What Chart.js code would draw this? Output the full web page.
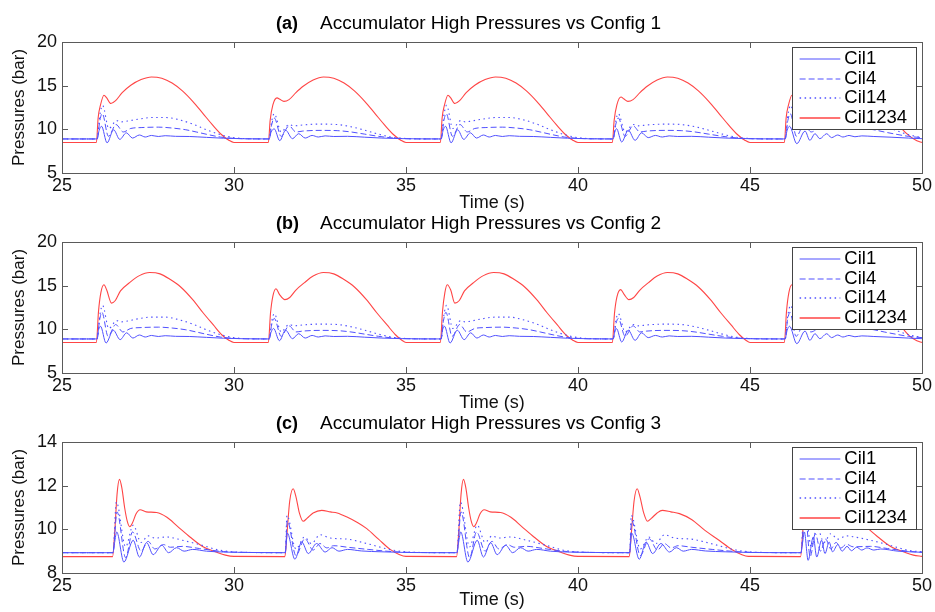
<!DOCTYPE html>
<html><head><meta charset="utf-8">
<script src="https://cdn.jsdelivr.net/npm/chart.js@4.4.0/dist/chart.umd.min.js"></script>
<style>html,body{margin:0;padding:0;background:#fff}#wrap{position:relative;width:935px;height:612px;background:#fff;overflow:hidden}canvas{position:absolute;left:0}</style>
</head><body>
<div id="wrap">
<canvas id="ca" width="935" height="215" style="top:0"></canvas>
<canvas id="cb" width="935" height="215" style="top:200px"></canvas>
<canvas id="cc" width="935" height="212" style="top:400px"></canvas>
</div>
<script>
// ---- labels ----
const seriesNames = ['Cil1','Cil4','Cil14','Cil1234'];
const panelTags = ['(a)','(b)','(c)'];
const panelTitles = ['Accumulator High Pressures vs Config 1','Accumulator High Pressures vs Config 2','Accumulator High Pressures vs Config 3'];
const xTicks = [25,30,35,40,45,50];
const yTicksAB = [5,10,15,20];
const yTicksC = [8,10,12,14];
const xTitle = 'Time (s)';
const yTitle = 'Pressures (bar)';

// ---- panel (a) ----
const aCil1 = [[25,8.9],[26.02,8.9],[26.08,9.9],[26.15,10.35],[26.31,8.45],[26.5,9.95],[26.68,8.85],[26.87,9.6],[27.05,9.0],[27.25,9.35],[27.42,9.12],[27.6,9.3],[27.8,9.18],[28.0,9.27],[28.3,9.2],[28.7,9.18],[29.2,9.08],[29.7,8.98],[30.3,8.92],
[31.02,8.9],[31.08,9.7],[31.17,10.05],[31.33,8.7],[31.5,9.9],[31.7,8.93],[31.88,9.5],[32.07,9.0],[32.27,9.3],[32.45,9.12],[32.65,9.25],[32.9,9.18],[33.3,9.2],[33.8,9.1],[34.3,9.0],[34.8,8.94],[35.4,8.91],
[36.02,8.9],[36.08,9.9],[36.15,10.35],[36.31,8.45],[36.5,9.95],[36.68,8.85],[36.87,9.6],[37.05,9.0],[37.25,9.35],[37.42,9.12],[37.6,9.3],[37.8,9.18],[38.0,9.27],[38.3,9.2],[38.7,9.18],[39.2,9.08],[39.7,8.98],[40.3,8.92],
[41.02,8.9],[41.07,9.7],[41.12,10.08],[41.27,8.55],[41.46,9.9],[41.66,8.74],[41.85,9.6],[42.04,9.05],[42.25,9.3],[42.45,9.12],[42.65,9.25],[42.9,9.18],[43.3,9.2],[43.8,9.1],[44.3,9.0],[44.8,8.94],[45.4,8.91],
[46.02,8.9],[46.08,9.9],[46.15,10.35],[46.36,8.36],[46.6,9.8],[46.74,8.74],[46.89,9.5],[47.03,8.93],[47.23,9.5],[47.37,9.05],[47.55,9.35],[47.7,9.12],[47.88,9.3],[48.05,9.15],[48.25,9.25],[48.6,9.18],[49.1,9.1],[49.6,9.0],[50,8.93]];
const aCil4 = [[25,8.9],[26.02,8.9],[26.1,11.0],[26.17,11.8],[26.35,9.2],[26.57,10.55],[26.78,9.7],[27.0,10.1],[27.3,10.2],[27.8,10.25],[28.2,10.15],[28.6,9.95],[28.9,9.7],[29.3,9.35],[29.6,9.12],[30.0,8.97],[30.5,8.91],
[31.02,8.9],[31.1,10.6],[31.17,11.3],[31.37,9.2],[31.6,10.4],[31.8,9.7],[32.0,9.8],[32.5,9.88],[33.0,9.85],[33.4,9.7],[33.8,9.45],[34.2,9.2],[34.6,9.02],[35.0,8.93],[35.5,8.9],
[36.02,8.9],[36.1,11.0],[36.17,11.8],[36.35,9.2],[36.57,10.55],[36.78,9.7],[37.0,10.1],[37.3,10.2],[37.8,10.25],[38.2,10.15],[38.6,9.95],[38.9,9.7],[39.3,9.35],[39.6,9.12],[40.0,8.97],[40.5,8.91],
[41.02,8.9],[41.1,10.6],[41.17,11.3],[41.37,9.2],[41.6,10.4],[41.8,9.7],[42.0,9.8],[42.5,9.88],[43.0,9.85],[43.4,9.7],[43.8,9.45],[44.2,9.2],[44.6,9.02],[45.0,8.93],[45.5,8.9],
[46.02,8.9],[46.1,11.0],[46.17,11.8],[46.35,9.2],[46.57,10.55],[46.78,9.7],[47.0,10.1],[47.3,10.2],[47.8,10.25],[48.2,10.15],[48.6,9.95],[48.9,9.7],[49.3,9.4],[49.6,9.2],[50,9.05]];
const aCil14 = [[25,8.9],[26.02,8.9],[26.1,11.6],[26.18,12.75],[26.36,10.1],[26.59,11.0],[26.72,10.85],[26.9,10.95],[27.2,11.15],[27.6,11.35],[28.0,11.35],[28.4,11.1],[28.8,10.6],[29.2,9.95],[29.6,9.4],[30.0,9.05],[30.4,8.93],
[31.02,8.9],[31.1,11.0],[31.17,11.8],[31.37,9.7],[31.6,10.55],[31.75,10.4],[32.0,10.5],[32.5,10.6],[33.0,10.55],[33.4,10.3],[33.8,9.9],[34.2,9.45],[34.6,9.1],[35.0,8.95],[35.4,8.91],
[36.02,8.9],[36.1,11.6],[36.18,12.75],[36.36,10.1],[36.59,11.0],[36.72,10.85],[36.9,10.95],[37.2,11.15],[37.6,11.35],[38.0,11.35],[38.4,11.1],[38.8,10.6],[39.2,9.95],[39.6,9.4],[40.0,9.05],[40.4,8.93],
[41.02,8.9],[41.1,11.0],[41.17,11.8],[41.37,9.7],[41.6,10.55],[41.75,10.4],[42.0,10.5],[42.5,10.6],[43.0,10.55],[43.4,10.3],[43.8,9.9],[44.2,9.45],[44.6,9.1],[45.0,8.95],[45.4,8.91],
[46.02,8.9],[46.1,11.6],[46.18,12.75],[46.36,10.1],[46.59,11.0],[46.72,10.85],[46.9,10.95],[47.2,11.15],[47.6,11.35],[48.0,11.35],[48.4,11.1],[48.8,10.6],[49.2,9.95],[49.6,9.4],[50,9.05]];
const aCil1234 = [[25,8.5],[26.0,8.5],[26.05,11.3],[26.12,12.8],[26.22,13.9],[26.3,13.6],[26.42,12.95],[26.55,13.25],[26.75,14.2],[27.0,15.05],[27.3,15.7],[27.6,16.0],[27.9,15.85],[28.2,15.3],[28.5,14.4],[28.8,13.2],[29.1,11.8],[29.4,10.4],[29.65,9.35],[29.85,8.75],[30.0,8.5],
[31.0,8.5],[31.05,11.0],[31.13,12.8],[31.25,13.6],[31.33,13.45],[31.45,13.2],[31.6,13.4],[31.8,14.2],[32.0,14.9],[32.3,15.65],[32.6,16.0],[32.9,15.85],[33.2,15.3],[33.5,14.4],[33.8,13.2],[34.1,11.8],[34.4,10.4],[34.65,9.35],[34.85,8.75],[35.0,8.5],
[36.0,8.5],[36.05,11.3],[36.12,12.8],[36.22,13.9],[36.3,13.6],[36.42,12.95],[36.55,13.25],[36.75,14.2],[37.0,15.05],[37.3,15.7],[37.6,16.0],[37.9,15.85],[38.2,15.3],[38.5,14.4],[38.8,13.2],[39.1,11.8],[39.4,10.4],[39.65,9.35],[39.85,8.75],[40.0,8.5],
[41.0,8.5],[41.05,11.0],[41.13,12.8],[41.25,13.7],[41.33,13.5],[41.45,13.2],[41.6,13.4],[41.8,14.2],[42.0,14.9],[42.3,15.65],[42.6,16.0],[42.9,15.85],[43.2,15.3],[43.5,14.4],[43.8,13.2],[44.1,11.8],[44.4,10.4],[44.65,9.35],[44.85,8.75],[45.0,8.5],
[46.0,8.5],[46.05,11.3],[46.12,12.8],[46.22,13.9],[46.3,13.6],[46.42,12.95],[46.55,13.25],[46.75,14.2],[47.0,15.05],[47.3,15.7],[47.6,16.0],[47.9,15.85],[48.2,15.3],[48.5,14.4],[48.8,13.2],[49.1,11.7],[49.4,10.1],[49.65,9.2],[49.85,8.7],[50.0,8.5]];

// ---- panel (b) ----
const bCil1 = [[25,8.9],[26.02,8.9],[26.06,9.9],[26.12,10.35],[26.28,8.43],[26.49,9.9],[26.69,8.82],[26.88,9.6],[27.06,9.0],[27.25,9.35],[27.42,9.12],[27.6,9.3],[27.8,9.18],[28.0,9.27],[28.3,9.2],[28.7,9.18],[29.2,9.08],[29.7,8.98],[30.3,8.92],
[31.02,8.9],[31.08,9.7],[31.15,10.1],[31.32,8.7],[31.5,9.9],[31.7,8.93],[31.88,9.5],[32.07,9.0],[32.27,9.3],[32.45,9.12],[32.65,9.25],[32.9,9.18],[33.3,9.2],[33.8,9.1],[34.3,9.0],[34.8,8.94],[35.4,8.91],
[36.02,8.9],[36.06,9.9],[36.12,10.35],[36.28,8.43],[36.49,9.9],[36.69,8.82],[36.88,9.6],[37.06,9.0],[37.25,9.35],[37.42,9.12],[37.6,9.3],[37.8,9.18],[38.0,9.27],[38.3,9.2],[38.7,9.18],[39.2,9.08],[39.7,8.98],[40.3,8.92],
[41.02,8.9],[41.07,9.7],[41.12,10.08],[41.27,8.55],[41.46,9.9],[41.66,8.74],[41.85,9.6],[42.04,9.05],[42.25,9.3],[42.45,9.12],[42.65,9.25],[42.9,9.18],[43.3,9.2],[43.8,9.1],[44.3,9.0],[44.8,8.94],[45.4,8.91],
[46.02,8.9],[46.08,9.9],[46.15,10.35],[46.36,8.36],[46.6,9.8],[46.74,8.74],[46.89,9.5],[47.03,8.93],[47.23,9.5],[47.37,9.05],[47.55,9.35],[47.7,9.12],[47.88,9.3],[48.05,9.15],[48.25,9.25],[48.6,9.18],[49.1,9.1],[49.6,9.0],[50,8.93]];
const bCil4 = [[25,8.9],[26.02,8.9],[26.09,11.0],[26.16,11.95],[26.34,9.2],[26.56,10.55],[26.77,9.7],[27.0,10.1],[27.3,10.2],[27.8,10.25],[28.2,10.15],[28.6,9.95],[28.9,9.7],[29.3,9.35],[29.6,9.12],[30.0,8.97],[30.5,8.91],
[31.02,8.9],[31.1,10.6],[31.17,11.25],[31.37,9.2],[31.6,10.4],[31.8,9.7],[32.0,9.8],[32.5,9.88],[33.0,9.85],[33.4,9.7],[33.8,9.45],[34.2,9.2],[34.6,9.02],[35.0,8.93],[35.5,8.9],
[36.02,8.9],[36.09,11.0],[36.16,11.95],[36.34,9.2],[36.56,10.55],[36.77,9.7],[37.0,10.1],[37.3,10.2],[37.8,10.25],[38.2,10.15],[38.6,9.95],[38.9,9.7],[39.3,9.35],[39.6,9.12],[40.0,8.97],[40.5,8.91],
[41.02,8.9],[41.1,10.6],[41.17,11.25],[41.37,9.2],[41.6,10.4],[41.8,9.7],[42.0,9.8],[42.5,9.88],[43.0,9.85],[43.4,9.7],[43.8,9.45],[44.2,9.2],[44.6,9.02],[45.0,8.93],[45.5,8.9],
[46.02,8.9],[46.09,11.0],[46.16,11.95],[46.34,9.2],[46.56,10.55],[46.77,9.7],[47.0,10.1],[47.3,10.2],[47.8,10.25],[48.2,10.15],[48.6,9.95],[48.9,9.7],[49.3,9.4],[49.6,9.2],[50,9.05]];
const bCil14 = [[25,8.9],[26.02,8.9],[26.1,11.6],[26.18,12.75],[26.36,10.1],[26.59,11.0],[26.72,10.85],[26.9,10.95],[27.2,11.2],[27.6,11.4],[28.0,11.4],[28.4,11.1],[28.8,10.6],[29.2,9.95],[29.6,9.4],[30.0,9.05],[30.4,8.93],
[31.02,8.9],[31.1,11.0],[31.17,11.8],[31.37,9.7],[31.6,10.55],[31.75,10.4],[32.0,10.5],[32.5,10.6],[33.0,10.55],[33.4,10.3],[33.8,9.9],[34.2,9.45],[34.6,9.1],[35.0,8.95],[35.4,8.91],
[36.02,8.9],[36.1,11.6],[36.18,12.75],[36.36,10.1],[36.59,11.0],[36.72,10.85],[36.9,10.95],[37.2,11.2],[37.6,11.4],[38.0,11.4],[38.4,11.1],[38.8,10.6],[39.2,9.95],[39.6,9.4],[40.0,9.05],[40.4,8.93],
[41.02,8.9],[41.1,11.0],[41.17,11.8],[41.37,9.7],[41.6,10.55],[41.75,10.4],[42.0,10.5],[42.5,10.6],[43.0,10.55],[43.4,10.3],[43.8,9.9],[44.2,9.45],[44.6,9.1],[45.0,8.95],[45.4,8.91],
[46.02,8.9],[46.1,11.6],[46.18,12.75],[46.36,10.1],[46.59,11.0],[46.72,10.85],[46.9,10.95],[47.2,11.2],[47.6,11.4],[48.0,11.4],[48.4,11.1],[48.8,10.6],[49.2,9.95],[49.6,9.4],[50,9.05]];
const bCil1234 = [[25,8.5],[26.0,8.5],[26.06,12.0],[26.13,14.2],[26.22,15.1],[26.3,14.5],[26.44,13.0],[26.55,13.3],[26.7,14.4],[26.95,15.3],[27.25,16.15],[27.55,16.5],[27.85,16.35],[28.15,15.7],[28.45,14.85],[28.8,13.4],[29.1,11.9],[29.4,10.5],[29.65,9.35],[29.85,8.75],[30.0,8.5],
[31.0,8.5],[31.06,11.8],[31.13,13.8],[31.22,14.65],[31.32,14.0],[31.48,13.4],[31.62,13.65],[31.8,14.5],[32.05,15.35],[32.3,16.1],[32.6,16.5],[32.9,16.35],[33.2,15.7],[33.5,14.85],[33.85,13.4],[34.15,11.9],[34.45,10.5],[34.7,9.35],[34.88,8.75],[35.0,8.5],
[36.0,8.5],[36.06,12.0],[36.13,14.2],[36.2,15.1],[36.3,14.5],[36.42,13.0],[36.55,13.3],[36.7,14.4],[36.95,15.3],[37.25,16.15],[37.55,16.5],[37.85,16.35],[38.15,15.7],[38.45,14.85],[38.8,13.4],[39.1,11.9],[39.4,10.5],[39.65,9.35],[39.85,8.75],[40.0,8.5],
[41.0,8.5],[41.06,11.8],[41.13,13.7],[41.24,14.55],[41.34,14.0],[41.48,13.4],[41.62,13.65],[41.8,14.5],[42.05,15.35],[42.3,16.1],[42.6,16.5],[42.9,16.35],[43.2,15.7],[43.5,14.85],[43.85,13.4],[44.15,11.9],[44.45,10.5],[44.7,9.35],[44.88,8.75],[45.0,8.5],
[46.0,8.5],[46.06,12.0],[46.13,14.2],[46.22,15.1],[46.3,14.5],[46.44,13.0],[46.55,13.3],[46.7,14.4],[46.95,15.3],[47.25,16.15],[47.55,16.5],[47.85,16.35],[48.15,15.7],[48.45,14.85],[48.8,13.4],[49.1,11.9],[49.4,10.3],[49.65,9.2],[49.85,8.7],[50.0,8.5]];

// ---- panel (c) ----
const cCil1 = [[25,8.93],[26.48,8.93],[26.53,9.4],[26.59,9.88],[26.8,8.5],[27.07,9.5],[27.25,8.73],[27.46,9.39],[27.65,8.84],[27.9,9.27],[28.1,8.93],[28.33,9.16],[28.55,9.0],[28.8,9.08],[29.2,9.0],[29.7,8.96],[30.5,8.94],
[31.49,8.93],[31.55,9.83],[31.77,8.63],[31.97,9.42],[32.16,8.89],[32.4,9.35],[32.65,8.96],[32.85,9.16],[33.05,9.0],[33.3,9.08],[33.7,9.01],[34.3,8.97],[35.0,8.94],
[36.48,8.93],[36.53,9.4],[36.59,9.88],[36.8,8.5],[37.07,9.5],[37.25,8.73],[37.46,9.39],[37.65,8.84],[37.9,9.27],[38.1,8.93],[38.33,9.16],[38.55,9.0],[38.8,9.08],[39.2,9.0],[39.7,8.96],[40.5,8.94],
[41.5,8.93],[41.56,9.83],[41.78,8.63],[41.98,9.42],[42.17,8.89],[42.41,9.35],[42.66,8.96],[42.86,9.16],[43.06,9.0],[43.3,9.08],[43.7,9.01],[44.3,8.97],[45.0,8.94],
[46.48,8.93],[46.53,9.4],[46.58,9.88],[46.69,8.58],[46.84,9.65],[46.94,8.73],[47.08,9.5],[47.18,8.89],[47.3,9.42],[47.4,8.97],[47.55,9.3],[47.68,9.0],[47.82,9.22],[47.95,9.02],[48.1,9.18],[48.25,9.05],[48.4,9.15],[48.6,9.05],[48.8,9.1],[49.3,9.0],[50,8.95]];
const cCil4 = [[25,8.93],[26.48,8.93],[26.6,10.8],[26.85,8.7],[27.05,9.88],[27.3,9.0],[27.5,9.45],[27.7,9.1],[27.95,9.3],[28.15,9.18],[28.5,9.22],[29.0,9.12],[29.7,8.98],[30.5,8.94],
[31.49,8.93],[31.55,10.4],[31.8,8.8],[32.06,9.57],[32.3,9.05],[32.5,9.35],[32.7,9.15],[32.9,9.25],[33.3,9.18],[33.9,9.08],[34.6,8.98],[35.3,8.94],
[36.48,8.93],[36.6,10.8],[36.85,8.7],[37.05,9.88],[37.3,9.0],[37.5,9.45],[37.7,9.1],[37.95,9.3],[38.15,9.18],[38.5,9.22],[39.0,9.12],[39.7,8.98],[40.5,8.94],
[41.5,8.93],[41.56,10.4],[41.81,8.8],[42.07,9.57],[42.31,9.05],[42.51,9.35],[42.71,9.15],[42.91,9.25],[43.3,9.18],[43.9,9.08],[44.6,8.98],[45.3,8.94],
[46.48,8.93],[46.6,10.8],[46.75,8.75],[46.9,9.8],[47.05,9.0],[47.2,9.55],[47.35,9.1],[47.5,9.4],[47.65,9.15],[47.8,9.32],[48.0,9.2],[48.5,9.22],[49.0,9.12],[49.7,8.98],[50,8.95]];
const cCil14 = [[25,8.93],[26.48,8.93],[26.58,11.25],[26.85,9.2],[27.07,10.19],[27.3,9.4],[27.5,9.7],[27.7,9.6],[28.04,9.65],[28.5,9.5],[29.0,9.3],[29.6,9.04],[30.2,8.95],
[31.49,8.93],[31.54,10.64],[31.8,9.1],[32.05,9.65],[32.25,9.35],[32.5,9.75],[32.8,9.6],[33.3,9.55],[33.86,9.35],[34.6,9.05],[35.2,8.95],
[36.48,8.93],[36.58,11.25],[36.85,9.2],[37.07,10.19],[37.3,9.4],[37.5,9.7],[37.7,9.6],[38.04,9.65],[38.5,9.5],[39.0,9.3],[39.6,9.04],[40.2,8.95],
[41.5,8.93],[41.55,10.64],[41.81,9.1],[42.06,9.65],[42.26,9.35],[42.51,9.75],[42.8,9.6],[43.3,9.55],[43.86,9.35],[44.6,9.05],[45.2,8.95],
[46.48,8.93],[46.58,11.25],[46.78,9.2],[46.95,10.1],[47.15,9.4],[47.35,9.8],[47.55,9.55],[47.8,9.7],[48.04,9.65],[48.5,9.5],[49.0,9.3],[49.6,9.04],[50,8.97]];
const cCil1234 = [[25,8.75],[26.47,8.75],[26.53,9.8],[26.6,11.6],[26.67,12.29],[26.74,11.9],[26.82,11.0],[26.9,10.35],[26.97,10.12],[27.05,10.3],[27.15,10.7],[27.27,10.9],[27.45,10.8],[27.75,10.77],[28.05,10.55],[28.35,10.15],[28.72,9.65],[29.1,9.2],[29.5,8.95],[29.75,8.82],[30.0,8.76],
[31.48,8.75],[31.54,9.8],[31.62,11.3],[31.72,11.86],[31.8,11.5],[31.9,10.75],[32.01,10.37],[32.12,10.5],[32.3,10.75],[32.55,10.87],[32.8,10.8],[33.0,10.75],[33.3,10.55],[33.6,10.3],[33.86,10.03],[34.2,9.55],[34.54,9.08],[34.8,8.85],[35.0,8.76],
[36.47,8.75],[36.53,9.8],[36.6,11.6],[36.67,12.29],[36.74,11.9],[36.82,11.0],[36.9,10.35],[36.97,10.12],[37.05,10.3],[37.15,10.7],[37.27,10.9],[37.45,10.8],[37.75,10.77],[38.05,10.55],[38.35,10.15],[38.72,9.65],[39.1,9.2],[39.5,8.95],[39.75,8.82],[40.0,8.76],
[41.49,8.75],[41.55,9.8],[41.63,11.3],[41.72,11.86],[41.8,11.5],[41.91,10.75],[42.02,10.37],[42.13,10.5],[42.3,10.75],[42.45,10.87],[42.7,10.8],[42.95,10.72],[43.3,10.45],[43.69,9.95],[44.1,9.5],[44.47,9.08],[44.75,8.85],[44.95,8.76],
[46.47,8.75],[46.53,9.8],[46.6,11.6],[46.67,12.29],[46.74,11.9],[46.82,11.0],[46.9,10.35],[46.97,10.12],[47.05,10.3],[47.15,10.7],[47.27,10.9],[47.45,10.8],[47.75,10.77],[48.05,10.55],[48.35,10.15],[48.72,9.65],[49.1,9.2],[49.5,8.95],[49.75,8.82],[50.0,8.76]];

// ---- styling ----
const FAM = "'Liberation Sans', Arial, Helvetica, sans-serif";
const BLUE = '#5050ff';
const RED = '#ff4545';
const styles = [
  {borderColor: BLUE, borderWidth: 1, borderDash: []},
  {borderColor: BLUE, borderWidth: 1, borderDash: [6, 3]},
  {borderColor: BLUE, borderWidth: 1.1, borderDash: [1.5, 3.5]},
  {borderColor: RED, borderWidth: 1.1, borderDash: []}
];

const decor = {
  id: 'decor',
  afterDraw(chart, args, o) {
    const ctx = chart.ctx;
    const {left, right, top, bottom} = chart.chartArea;
    const xs = chart.scales.x, ys = chart.scales.y;
    ctx.save();
    ctx.setLineDash([]);
    ctx.strokeStyle = '#5a5a5a'; ctx.lineWidth = 1;
    ctx.beginPath();
    xTicks.forEach(v => { const p = Math.round(xs.getPixelForValue(v)) + 0.5;
      ctx.moveTo(p, bottom); ctx.lineTo(p, bottom - 6); ctx.moveTo(p, top); ctx.lineTo(p, top + 6); });
    o.yTicks.forEach(v => { const p = Math.round(ys.getPixelForValue(v)) + 0.5;
      ctx.moveTo(left, p); ctx.lineTo(left + 6, p); ctx.moveTo(right, p); ctx.lineTo(right - 6, p); });
    ctx.stroke();
    ctx.strokeRect(Math.round(left) + 0.5, Math.round(top) + 0.5, Math.round(right - left), Math.round(bottom - top));
    // title
    ctx.fillStyle = '#000'; ctx.textAlign = 'left'; ctx.textBaseline = 'alphabetic';
    ctx.font = 'bold 18px ' + FAM; ctx.fillText(o.tag, 276, o.titleY);
    ctx.font = '19px ' + FAM; ctx.fillText(o.title, 320, o.titleY);
    // legend box
    const lx = Math.round(right - 130.3), ly = Math.round(top + 5.3), lw = 124, lh = 82;
    ctx.fillStyle = '#fff'; ctx.fillRect(lx, ly, lw, lh);
    ctx.strokeStyle = '#444'; ctx.lineWidth = 1; ctx.strokeRect(lx + 0.5, ly + 0.5, lw, lh);
    ctx.restore();
    // legend entries
    for (let i = 0; i < seriesNames.length; i++) {
      const st = styles[i];
      const ry = Math.round(ly + 12 + i * 19.5);
      ctx.save();
      ctx.beginPath();
      ctx.setLineDash(st.borderDash);
      ctx.lineWidth = st.borderWidth + 0.2;
      ctx.strokeStyle = st.borderColor;
      ctx.moveTo(lx + 7.6, ry); ctx.lineTo(lx + 48.3, ry);
      ctx.stroke();
      ctx.restore();
      ctx.save();
      ctx.fillStyle = '#000'; ctx.font = '18.5px ' + FAM; ctx.textBaseline = 'middle'; ctx.textAlign = 'left';
      ctx.fillText(seriesNames[i], lx + 52.3, ry);
      ctx.restore();
    }
  }
};

function makePanel(id, H, idx, series, yMin, yMax, yTicks, titleY, xTitlePad) {
  const datasets = series.map((s, i) => Object.assign({
    label: seriesNames[i],
    data: s.map(p => ({x: p[0], y: p[1]})),
    pointRadius: 0, fill: false, cubicInterpolationMode: 'monotone'
  }, styles[i]));
  new Chart(document.getElementById(id), {
    type: 'line',
    data: {datasets},
    options: {
      responsive: false, animation: false, devicePixelRatio: 1, events: [],
      layout: {padding: {left: 0, right: 13, top: 42, bottom: 0}},
      plugins: {legend: {display: false}, tooltip: {enabled: false},
        decor: {tag: panelTags[idx], title: panelTitles[idx], titleY, yTicks}},
      scales: {
        x: {type: 'linear', min: 25, max: 50,
          afterBuildTicks: s => { s.ticks = xTicks.map(v => ({value: v})); },
          afterFit: s => { s.height = H - 173; s.paddingLeft = 0; s.paddingRight = 0; },
          ticks: {font: {family: FAM, size: 18}, color: '#111', padding: 2, maxRotation: 0, autoSkip: false},
          grid: {display: false, drawTicks: false}, border: {display: false},
          title: {display: true, text: xTitle, color: '#111', font: {family: FAM, size: 18}, padding: {top: 0, bottom: xTitlePad}}},
        y: {type: 'linear', min: yMin, max: yMax,
          afterBuildTicks: s => { s.ticks = yTicks.map(v => ({value: v})); },
          afterFit: s => { s.width = 62; },
          ticks: {font: {family: FAM, size: 18}, color: '#111', padding: 5, autoSkip: false},
          grid: {display: false, drawTicks: false}, border: {display: false},
          title: {display: true, text: yTitle, color: '#111', font: {family: FAM, size: 17}, padding: {top: 8.8, bottom: 0}}}
      }
    },
    plugins: [decor]
  });
}

makePanel('ca', 215, 0, [aCil1, aCil4, aCil14, aCil1234], 5, 20, yTicksAB, 29.3, 0.7);
makePanel('cb', 215, 1, [bCil1, bCil4, bCil14, bCil1234], 5, 20, yTicksAB, 29.3, 0.7);
makePanel('cc', 212, 2, [cCil1, cCil4, cCil14, cCil1234], 8, 14, yTicksC, 29, 1.0);
</script>
</body></html>
